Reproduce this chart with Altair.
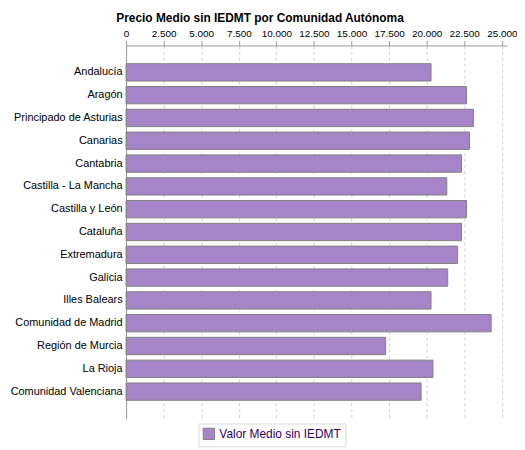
import altair as alt
import pandas as pd

comunidades = [
    "Andalucía", "Aragón", "Principado de Asturias", "Canarias", "Cantabria",
    "Castilla - La Mancha", "Castilla y León", "Cataluña", "Extremadura",
    "Galicia", "Illes Balears", "Comunidad de Madrid", "Región de Murcia",
    "La Rioja", "Comunidad Valenciana",
]
valores = [
    20290, 22650, 23110, 22850, 22320,
    21340, 22650, 22320, 22060,
    21400, 20290, 24290, 17270,
    20420, 19630,
]
serie = "Valor Medio sin IEDMT"
ticks = [0, 2500, 5000, 7500, 10000, 12500, 15000, 17500, 20000, 22500, 25000]

df = pd.DataFrame({"comunidad": comunidades, "valor": valores, "serie": [serie] * len(comunidades)})

bars = alt.Chart(df).mark_bar(stroke="#808080", strokeWidth=1).encode(
    y=alt.Y(
        "comunidad:N",
        sort=comunidades,
        title=None,
        scale=alt.Scale(paddingInner=0.24, paddingOuter=0.8),
        axis=alt.Axis(
            ticks=False, domainColor="#999999", labelFont="Liberation Sans",
            labelFontSize=11, labelColor="#000000", labelPadding=4,
            labelLimit=200,
        ),
    ),
    x=alt.X(
        "valor:Q",
        title=None,
        scale=alt.Scale(domain=[0, 25350], nice=False),
        axis=alt.Axis(
            orient="top", values=ticks,
            labelExpr="replace(format(datum.value, ',d'), ',', '.')",
            labelFont="Liberation Sans", labelFontSize=10, labelColor="#000000",
            domainColor="#999999", tickColor="#999999", tickSize=5,
            labelPadding=2, gridColor="#d0d0d0", gridDash=[3, 3],
            labelFlush=False,
        ),
    ),
    color=alt.Color(
        "serie:N",
        scale=alt.Scale(domain=[serie], range=["#A585C8"]),
        legend=alt.Legend(
            title=None, orient="none", legendX=73, legendY=381,
            symbolType="square", symbolSize=130, symbolStrokeColor="#808080",
            symbolStrokeWidth=1, symbolOpacity=1,
            labelFont="Liberation Sans", labelFontSize=12, labelColor="#330066",
            strokeColor="#d8d8d8", fillColor="#ffffff", padding=4,
        ),
    ),
)

chart = bars.properties(
    width=384,
    height=376,
    autosize=alt.AutoSizeParams(type="none"),
    padding={"left": 119, "top": 36, "right": 10, "bottom": 30},
    title=alt.TitleParams(
        "Precio Medio sin IEDMT por Comunidad Autónoma",
        anchor="middle", dx=-57, offset=4,
        font="Liberation Sans", fontSize=12, fontWeight="bold", color="#000000",
    ),
).configure_view(stroke=None).configure_axis(grid=True).configure_axisY(grid=False)

chart.save("out.html", embed_options={"renderer": "svg", "actions": False})
